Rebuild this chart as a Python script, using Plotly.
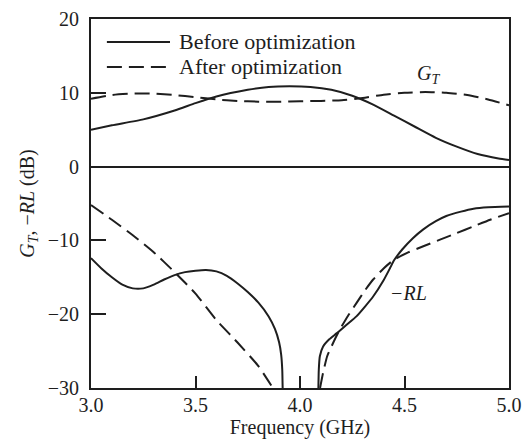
import plotly.graph_objects as go

# G_T curves (dB)
gt_freq_before = [3.0, 3.1, 3.25, 3.4, 3.5, 3.6, 3.75, 3.85, 3.95, 4.05, 4.15, 4.25, 4.35, 4.45, 4.55, 4.65, 4.75, 4.85, 4.95, 5.0]
gt_before = [5.0, 5.6, 6.4, 7.6, 8.6, 9.5, 10.4, 10.8, 10.9, 10.8, 10.4, 9.6, 8.4, 6.9, 5.4, 3.9, 2.7, 1.7, 1.1, 0.9]

gt_freq_after = [3.0, 3.1, 3.2, 3.3, 3.4, 3.5, 3.6, 3.7, 3.8, 3.9, 4.0, 4.1, 4.2, 4.3, 4.4, 4.5, 4.6, 4.7, 4.8, 4.9, 5.0]
gt_after = [9.2, 9.7, 9.9, 9.9, 9.7, 9.4, 9.1, 8.9, 8.8, 8.8, 8.85, 8.9, 9.0, 9.3, 9.75, 10.0, 10.1, 10.0, 9.7, 9.1, 8.3]

# -RL curves (dB), low band and high band (clipped at -30 dB)
rl_freq_before_lo = [3.0, 3.05, 3.1, 3.15, 3.2, 3.25, 3.3, 3.35, 3.4, 3.45, 3.5, 3.55, 3.6, 3.65, 3.7, 3.75, 3.8, 3.85, 3.88, 3.9, 3.91, 3.915, 3.917]
rl_before_lo = [-12.4, -13.8, -15.0, -16.0, -16.5, -16.5, -16.0, -15.3, -14.7, -14.3, -14.1, -14.0, -14.2, -14.8, -15.8, -17.0, -18.4, -20.3, -22.0, -23.8, -25.5, -27.5, -30.0]
rl_freq_before_hi = [4.088, 4.09, 4.095, 4.11, 4.14, 4.175, 4.22, 4.27, 4.31, 4.35, 4.4, 4.43, 4.45, 4.49, 4.54, 4.59, 4.65, 4.7, 4.77, 4.83, 4.9, 5.0]
rl_before_hi = [-30.0, -27.5, -25.7, -24.4, -23.4, -22.6, -21.5, -20.3, -19.0, -17.6, -15.4, -13.8, -12.7, -11.2, -9.7, -8.5, -7.4, -6.7, -6.1, -5.7, -5.5, -5.4]

rl_freq_after_lo = [3.0, 3.1, 3.2, 3.3, 3.4, 3.5, 3.6, 3.7, 3.8, 3.87]
rl_after_lo = [-5.2, -7.2, -9.3, -11.6, -14.3, -17.2, -20.8, -23.8, -27.0, -30.0]
rl_freq_after_hi = [4.096, 4.11, 4.13, 4.16, 4.19, 4.23, 4.27, 4.31, 4.35, 4.4, 4.45, 4.52, 4.59, 4.67, 4.75, 4.83, 4.91, 5.0]
rl_after_hi = [-30.0, -28.0, -25.7, -23.8, -22.1, -20.2, -18.5, -16.8, -15.3, -13.8, -12.6, -11.6, -10.8, -9.9, -9.0, -8.1, -7.2, -6.3]

x_ticks = [3.0, 3.5, 4.0, 4.5, 5.0]
y_ticks = [-30, -20, -10, 0, 10, 20]
series_names = ["Before optimization", "After optimization"]
series_dash = ["solid", "15px,7px"]

FONT = "Liberation Serif"
INK = "#1e1e1e"
FS = 20

fig = go.Figure()

def add(x, y, k):
    fig.add_trace(go.Scatter(
        x=x, y=y, mode="lines", name=series_names[k], legendgroup=series_names[k],
        showlegend=False,
        line=dict(color=INK, width=2, dash=series_dash[k], shape="spline", smoothing=0.5),
    ))

add(gt_freq_before, gt_before, 0)
add(gt_freq_after, gt_after, 1)
add(rl_freq_before_lo, rl_before_lo, 0)
add(rl_freq_before_hi, rl_before_hi, 0)
add(rl_freq_after_lo, rl_after_lo, 1)
add(rl_freq_after_hi, rl_after_hi, 1)

# legend (drawn in paper coordinates so the sample lines match the original length)
legend_rows = [0.938, 0.870]
for k, name in enumerate(series_names):
    fig.add_shape(type="line", xref="paper", yref="paper",
                  x0=0.038, x1=0.189, y0=legend_rows[k], y1=legend_rows[k],
                  line=dict(color=INK, width=2, dash=series_dash[k]))
    fig.add_annotation(xref="paper", yref="paper", x=0.206, y=legend_rows[k],
                       xanchor="left", yanchor="middle", text=name, showarrow=False,
                       font=dict(family=FONT, size=22, color=INK))

fig.add_annotation(x=4.615, y=12.5, text="<i>G</i><sub><i>T</i></sub>", showarrow=False,
                   font=dict(family=FONT, size=FS, color=INK))
fig.add_annotation(x=4.52, y=-17.1, text="<i>−RL</i>", showarrow=False,
                   font=dict(family=FONT, size=FS, color=INK))

fig.update_layout(
    width=523, height=447,
    margin=dict(l=91, r=14, t=19, b=59),
    paper_bgcolor="white", plot_bgcolor="white",
    font=dict(family=FONT, size=FS, color=INK),
    showlegend=False,
    xaxis=dict(range=[3.0, 5.0], tickvals=x_ticks, tickformat=".1f",
               ticks="inside", ticklen=12, tickwidth=1.5, tickcolor=INK,
               showline=True, linecolor=INK, linewidth=2, mirror=True,
               showgrid=False, zeroline=False, ticklabelstandoff=-2, automargin=False,
               ticklabeloverflow="allow", tickfont=dict(size=FS),
               title=dict(text="Frequency (GHz)", standoff=0, font=dict(size=FS))),
    yaxis=dict(range=[-30, 20], tickvals=y_ticks,
               ticks="inside", ticklen=15, tickwidth=1.5, tickcolor=INK,
               showline=True, linecolor=INK, linewidth=2, mirror=True,
               showgrid=False, zeroline=True, zerolinecolor=INK, zerolinewidth=1.5,
               ticklabelstandoff=6, automargin=False, ticklabeloverflow="allow",
               tickfont=dict(size=FS),
               title=dict(text="<i>G</i><sub><i>T</i></sub>, −<i>RL</i> (dB)", standoff=8,
                          font=dict(size=FS))),
)

# remove the default 8px page margin so the 523x447 figure fills the window exactly
fig.write_html("out.html",
               config={"displayModeBar": False},
               post_script="document.body.style.margin='0';"
                           "document.documentElement.style.overflow='hidden';")
